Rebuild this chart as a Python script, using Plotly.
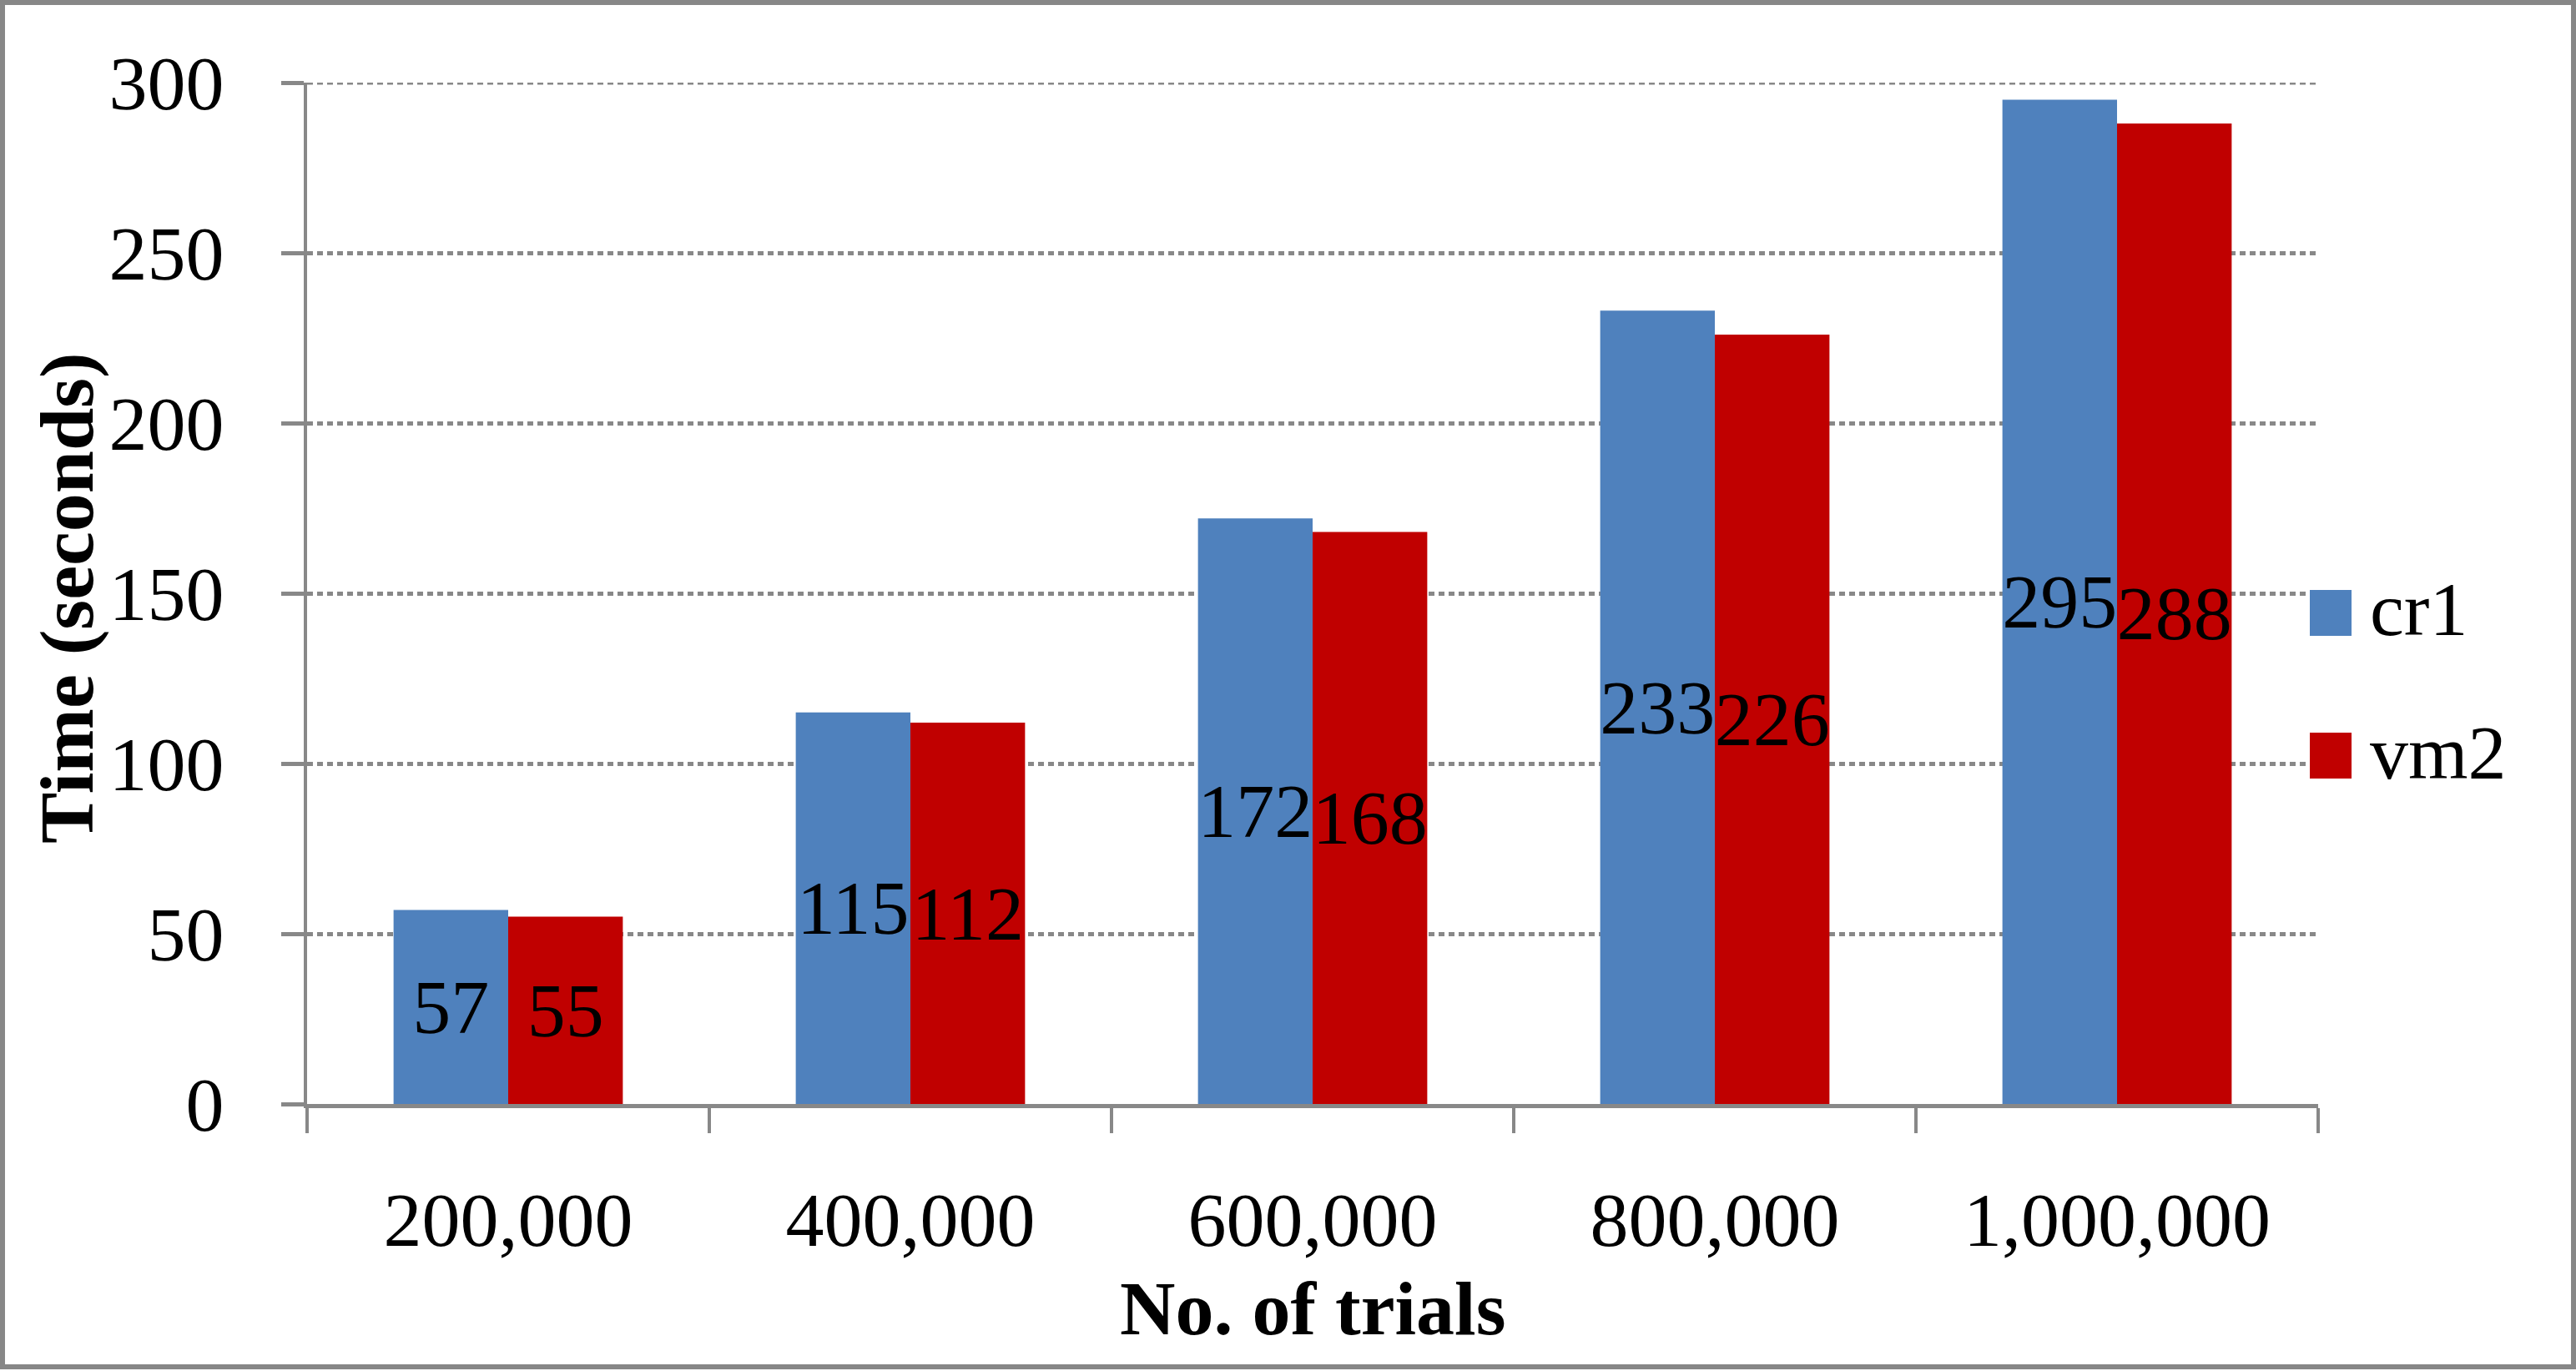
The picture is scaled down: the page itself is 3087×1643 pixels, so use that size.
import plotly.graph_objects as go

categories = ["200,000", "400,000", "600,000", "800,000", "1,000,000"]
series_names = ["cr1", "vm2"]
cr1_values = [57, 115, 172, 233, 295]
vm2_values = [55, 112, 168, 226, 288]
y_tick_values = [0, 50, 100, 150, 200, 250, 300]

colors = ["#4F81BD", "#C00000"]
FONT = "Liberation Serif"
FS = 92
GRAY = "#888888"

W, H = 3087, 1643
L, R, T, B = 368, 309, 99, 320
PW, PH = W - L - R, H - T - B


def px_x(p):
    return (p - L) / PW


def px_y(p):
    return (H - B - p) / PH


fig = go.Figure()
for name, vals, col in zip(series_names, [cr1_values, vm2_values], colors):
    fig.add_trace(go.Bar(
        x=categories, y=vals, name=name,
        marker=dict(color=col, line=dict(width=0)),
        text=[str(v) for v in vals],
        textposition="inside", insidetextanchor="middle", textangle=0,
        textfont=dict(family=FONT, size=FS, color="black"),
        showlegend=False,
    ))

fig.update_layout(
    width=W, height=H,
    margin=dict(l=L, r=R, t=T, b=B, pad=0),
    paper_bgcolor="white", plot_bgcolor="white",
    barmode="group", bargap=0.43, bargroupgap=0,
    uniformtext=dict(minsize=FS, mode="show"),
    font=dict(family=FONT, size=FS, color="black"),
)

fig.update_yaxes(
    range=[0, max(y_tick_values)], tickvals=y_tick_values,
    showgrid=True, gridcolor=GRAY, gridwidth=5, griddash="7px,5px",
    zeroline=False,
    showline=True, linecolor=GRAY, linewidth=4,
    ticks="outside", ticklen=27, tickwidth=5, tickcolor=GRAY,
    ticklabelstandoff=50,
    tickfont=dict(family=FONT, size=FS, color="black"),
)
fig.update_xaxes(
    type="category", tickson="boundaries",
    showline=True, linecolor=GRAY, linewidth=5,
    ticks="outside", ticklen=30, tickwidth=4, tickcolor=GRAY,
    ticklabelstandoff=55,
    tickfont=dict(family=FONT, size=FS, color="black"),
    showgrid=False,
)

# top gridline (plotly hides the one on the plot edge)
fig.add_shape(type="line", xref="paper", yref="y",
              x0=0, x1=1, y0=max(y_tick_values), y1=max(y_tick_values),
              line=dict(color=GRAY, width=5, dash="7px,5px"), layer="below")

# axis titles
fig.add_annotation(text="<b>No. of trials</b>", xref="paper", yref="paper",
                   x=0.5, y=px_y(1568), xanchor="center", yanchor="middle",
                   showarrow=False, font=dict(family=FONT, size=FS, color="black"))
fig.add_annotation(text="<b>Time (seconds)</b>", xref="paper", yref="paper",
                   x=px_x(80), y=px_y(717), xanchor="center", yanchor="middle",
                   textangle=-90,
                   showarrow=False, font=dict(family=FONT, size=FS, color="black"))

# legend (manual, large squares)
legend_rows = [(707, 762), (878, 933)]
for name, col, (ty, by) in zip(series_names, colors, legend_rows):
    fig.add_shape(type="rect", xref="paper", yref="paper",
                  x0=px_x(2768), x1=px_x(2818), y0=px_y(by), y1=px_y(ty),
                  fillcolor=col, line=dict(width=0))
    fig.add_annotation(text=name, xref="paper", yref="paper",
                       x=px_x(2838), y=px_y((ty + by) / 2 - 4),
                       xanchor="left", yanchor="middle", showarrow=False,
                       font=dict(family=FONT, size=FS, color="black"))

# outer frame
fig.add_shape(type="rect", xref="paper", yref="paper",
              x0=px_x(3), x1=px_x(3084), y0=px_y(1638), y1=px_y(3),
              line=dict(color="#878787", width=6), fillcolor="rgba(0,0,0,0)",
              layer="below")

fig.write_html(
    "out.html",
    config={"displayModeBar": False},
    post_script="document.body.style.margin='0';document.body.style.overflow='hidden';",
)
